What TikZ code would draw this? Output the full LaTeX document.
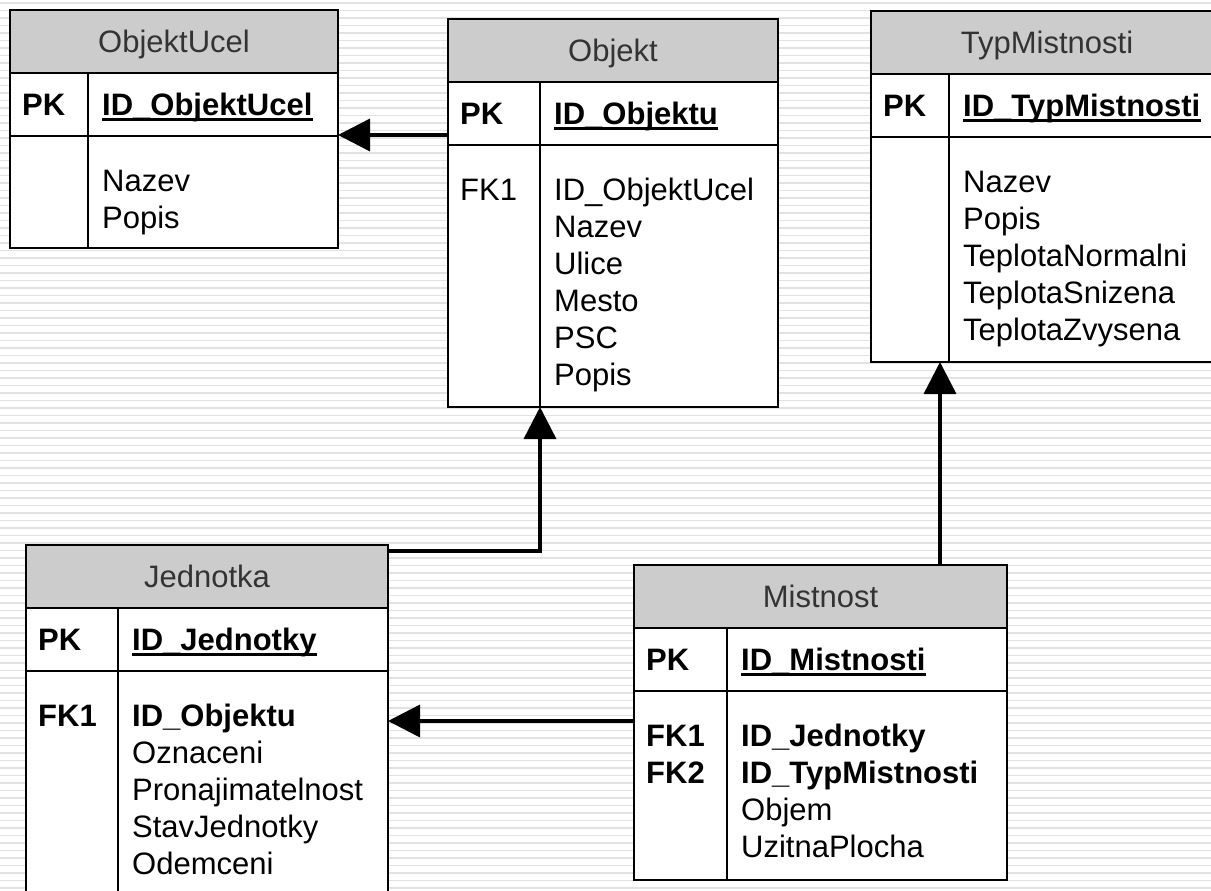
\documentclass[tikz,border=0pt]{standalone}
\usepackage{fontspec}
\setmainfont{Liberation Sans}
\usetikzlibrary{arrows.meta}

\definecolor{hdrgray}{RGB}{204,204,204}
\definecolor{stripegray}{RGB}{226,226,226}

\newcommand{\erfont}{\fontsize{31pt}{36pt}\selectfont}

\tikzset{
    tblbox/.style={draw, line width=2pt, fill=white, inner sep=0pt, outer sep=0pt},
    hdrbox/.style={draw, line width=2pt, fill=hdrgray, inner sep=0pt, outer sep=0pt,
        minimum height=63pt, text height=22pt, text depth=0pt, text=black!80, font=\erfont},
    pkbox/.style={draw, line width=2pt, inner sep=0pt, outer sep=0pt, minimum height=63pt},
    tbltxt/.style={inner sep=0pt, anchor=base west, font=\erfont},
    tblbold/.style={tbltxt, font=\erfont\bfseries},
    fkarrow/.style={line width=3.5pt, -{Triangle[length=32pt,width=32pt]}},
    stripeline/.style={stripegray, line width=1.5pt},
}

\newcommand{\ertable}[7]{%
    \node[tblbox, anchor=north west, minimum width=#3pt, minimum height=#4pt] (#1) at (#2) {};
    \node[hdrbox, anchor=north west, minimum width=#3pt] (#1-hd) at (#1.north west) {#6};
    \node[pkbox, anchor=north west, minimum width=#3pt] (#1-pk) at (#1-hd.south west) {};
    \draw[line width=2pt] ([xshift=#5pt]#1-pk.north west) coordinate (#1-divt)
        -- ([xshift=#5pt]#1.south west) coordinate (#1-divs);
    \node[tblbold] (#1-pkl) at ([shift={(12pt,-11pt)}]#1-pk.west) {PK};
    \node[tblbold] (#1-id) at ([shift={(#5pt+14pt,-11pt)}]#1-pk.west) {#7};
    \draw[line width=2.5pt] ([yshift=-4pt]#1-id.base west) -- ([yshift=-4pt]#1-id.base east);
    \coordinate (#1-k) at ([xshift=12pt]#1-pk.south west);
    \coordinate (#1-f) at ([xshift=#5pt+14pt]#1-pk.south west);
}

\begin{document}
\begin{tikzpicture}[x=1pt, y=-1pt]
    \useasboundingbox (0,0) rectangle (1211,891);
    \clip (0,0) rectangle (1211,891);

    \fill[white] (0,0) rectangle (1211,891);
    \foreach \y in {3, 10.5, ..., 891}{
        \draw[stripeline] (0, \y) -- (1211, \y);
    }

    \ertable{objektucel}{10,10}{328}{238}{78}{ObjektUcel}{ID\_ObjektUcel}
    \foreach \i/\k/\t [evaluate=\i as \yy using -55-37*\i] in {0//Nazev, 1//Popis}{
        \node[tbltxt] (objektucel-k\i) at ([yshift=\yy pt]objektucel-k) {\k};
        \node[tbltxt] (objektucel-f\i) at ([yshift=\yy pt]objektucel-f) {\t};
    }

    \ertable{objekt}{448,19}{330}{388}{92}{Objekt}{ID\_Objektu}
    \foreach \i/\k/\t [evaluate=\i as \yy using -55-37*\i] in {0/FK1/ID\_ObjektUcel,
            1//Nazev, 2//Ulice, 3//Mesto, 4//PSC, 5//Popis}{
        \node[tbltxt] (objekt-k\i) at ([yshift=\yy pt]objekt-k) {\k};
        \node[tbltxt] (objekt-f\i) at ([yshift=\yy pt]objekt-f) {\t};
    }

    \ertable{typmistnosti}{871,11}{352}{351}{78}{TypMistnosti}{ID\_TypMistnosti}
    \foreach \i/\k/\t [evaluate=\i as \yy using -55-37*\i] in {0//Nazev, 1//Popis,
            2//TeplotaNormalni, 3//TeplotaSnizena, 4//TeplotaZvysena}{
        \node[tbltxt] (typmistnosti-k\i) at ([yshift=\yy pt]typmistnosti-k) {\k};
        \node[tbltxt] (typmistnosti-f\i) at ([yshift=\yy pt]typmistnosti-f) {\t};
    }

    \ertable{jednotka}{26,545}{362}{370}{92}{Jednotka}{ID\_Jednotky}
    \foreach \i/\k/\t [evaluate=\i as \yy using -55-37*\i] in {0/{\bfseries FK1}/{\bfseries ID\_Objektu},
            1//Oznaceni, 2//Pronajimatelnost, 3//StavJednotky, 4//Odemceni}{
        \node[tbltxt] (jednotka-k\i) at ([yshift=\yy pt]jednotka-k) {\k};
        \node[tbltxt] (jednotka-f\i) at ([yshift=\yy pt]jednotka-f) {\t};
    }

    \ertable{mistnost}{634,565}{373}{315}{93}{Mistnost}{ID\_Mistnosti}
    \foreach \i/\k/\t [evaluate=\i as \yy using -55-37*\i] in {0/{\bfseries FK1}/{\bfseries ID\_Jednotky},
            1/{\bfseries FK2}/{\bfseries ID\_TypMistnosti}, 2//Objem, 3//UzitnaPlocha}{
        \node[tbltxt] (mistnost-k\i) at ([yshift=\yy pt]mistnost-k) {\k};
        \node[tbltxt] (mistnost-f\i) at ([yshift=\yy pt]mistnost-f) {\t};
    }

    \coordinate (ucel-in) at ([yshift=10pt]objekt-pk.south west);
    \draw[fkarrow] (ucel-in) -- (ucel-in -| objektucel.east);

    \draw[fkarrow] ([yshift=-6pt]jednotka.north east) -| (objekt-divs);

    \coordinate (typ-in) at ([xshift=-9pt]typmistnosti-divs);
    \draw[fkarrow] (typ-in |- mistnost.north) -- (typ-in);

    \coordinate (jedn-in) at ([yshift=-30pt]mistnost-pk.south west);
    \draw[fkarrow] (jedn-in) -- (jedn-in -| jednotka.east);

\end{tikzpicture}
\end{document}
